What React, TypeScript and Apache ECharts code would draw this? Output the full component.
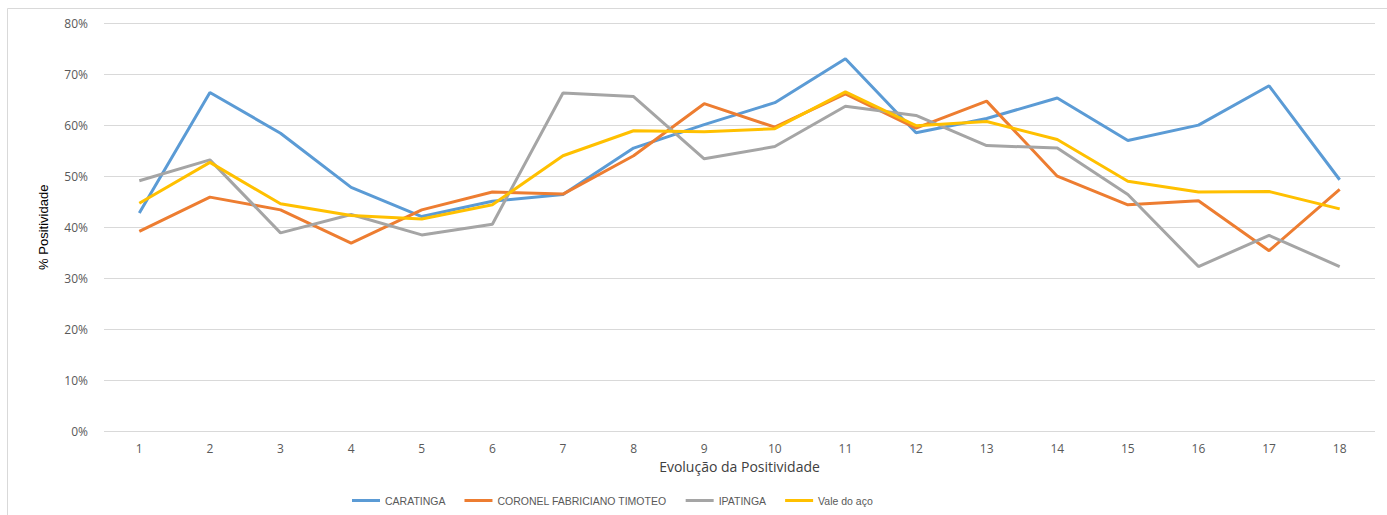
import React, { useEffect, useRef } from "react";
import * as echarts from "echarts";

const categories = ["1", "2", "3", "4", "5", "6", "7", "8", "9", "10", "11", "12", "13", "14", "15", "16", "17", "18"];
const caratinga = [42.8, 66.4, 58.4, 47.8, 42.1, 45.1, 46.4, 55.5, 60.1, 64.4, 73.0, 58.5, 61.3, 65.3, 57.0, 60.0, 67.7, 49.3];
const coronel = [39.2, 45.9, 43.4, 36.9, 43.4, 46.9, 46.5, 54.0, 64.2, 59.6, 66.1, 59.4, 64.7, 50.0, 44.4, 45.2, 35.4, 47.4];
const ipatinga = [49.1, 53.2, 38.9, 42.5, 38.5, 40.6, 66.3, 65.6, 53.4, 55.8, 63.7, 61.9, 56.0, 55.5, 46.4, 32.3, 38.4, 32.3];
const valeDoAco = [44.7, 52.7, 44.6, 42.3, 41.6, 44.4, 54.0, 58.9, 58.7, 59.3, 66.5, 59.9, 60.7, 57.2, 49.0, 46.9, 47.0, 43.6];
const seriesNames = ["CARATINGA", "CORONEL FABRICIANO TIMOTEO", "IPATINGA", "Vale do aço"];
const colors = ["#5B9BD5", "#ED7D31", "#A5A5A5", "#FFC000"];

export default function App() {
  const ref = useRef<HTMLDivElement>(null);
  useEffect(() => {
    if (!ref.current) return;
    const chart = echarts.init(ref.current, undefined, { renderer: "svg" });
    const wide = "'Open Sans', 'Noto Sans', sans-serif";
    const narrow = "'Liberation Sans', Arial, sans-serif";
    const data = [caratinga, coronel, ipatinga, valeDoAco];
    chart.setOption({
      animation: false,
      textStyle: { fontFamily: wide },
      graphic: [
        {
          type: "rect",
          shape: { x: 7.5, y: 8.5, width: 1400, height: 600 },
          style: { fill: "none", stroke: "#d9d9d9", lineWidth: 1 },
          silent: true,
        },
      ],
      grid: { left: 104, right: 12, top: 23, bottom: 83.5, containLabel: false },
      legend: {
        left: 352,
        top: 495,
        padding: 0,
        itemWidth: 28,
        itemHeight: 3,
        itemGap: 19,
        icon: "rect",
        textStyle: { color: "#595959", fontSize: 10.5, fontFamily: narrow },
        data: seriesNames,
      },
      xAxis: {
        type: "category",
        data: categories,
        boundaryGap: true,
        name: "Evolução da Positividade",
        nameLocation: "middle",
        nameGap: 28,
        nameTextStyle: { color: "#404040", fontSize: 14, fontFamily: wide },
        axisLine: { show: false },
        axisTick: { show: false },
        axisLabel: { color: "#595959", fontSize: 12, margin: 11, fontFamily: wide },
      },
      yAxis: {
        type: "value",
        min: 0,
        max: 80,
        interval: 10,
        name: "% Positividade",
        nameLocation: "middle",
        nameGap: 54,
        nameTextStyle: { color: "#000000", fontSize: 13, fontFamily: narrow },
        axisLine: { show: false },
        axisTick: { show: false },
        axisLabel: { color: "#595959", fontSize: 12, margin: 16, formatter: "{value}%", fontFamily: wide },
        splitLine: { lineStyle: { color: "#d9d9d9", width: 1 } },
      },
      series: seriesNames.map((n, i) => ({
        name: n,
        type: "line",
        data: data[i],
        symbol: "none",
        color: colors[i],
        lineStyle: { width: 3, color: colors[i] },
      })),
    });
    return () => chart.dispose();
  }, []);
  return <div ref={ref} style={{ position: "fixed", left: 0, top: 0, width: 1387, height: 515, background: "#fff" }} />;
}
